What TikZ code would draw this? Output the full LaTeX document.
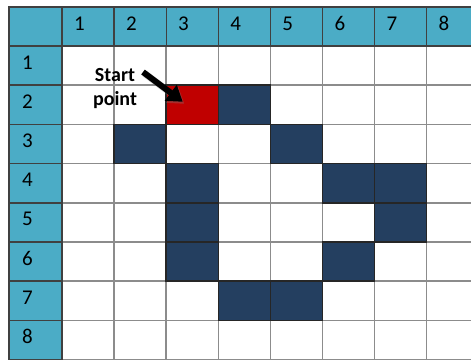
\documentclass[tikz,border=0pt]{standalone}
\usepackage{fontspec}
\setmainfont{Carlito}
\usetikzlibrary{calc,arrows.meta}
\definecolor{headteal}{HTML}{4BACC6}
\definecolor{wallblue}{HTML}{243F60}
\definecolor{startred}{HTML}{C00000}
\definecolor{gridgray}{HTML}{8C8C8C}
\tikzstyle{cell} = [rectangle, minimum width=52.1pt, minimum height=39.2pt, inner sep=0pt, draw=gridgray, line width=1.5pt, fill=white]
\tikzstyle{wall} = [cell, draw=black!85, fill=wallblue]
\tikzstyle{startcell} = [cell, draw=black!85, fill=startred]
\tikzstyle{head} = [rectangle, minimum width=52.1pt, minimum height=39pt, inner xsep=12pt, text width=28.1pt, align=left, text height=7pt, text depth=0pt, draw=black!75, line width=1.3pt, fill=headteal, font=\fontsize{21}{21}\selectfont]
\tikzstyle{rowhead} = [head, minimum width=53pt, inner xsep=13pt, text width=27pt]
\tikzstyle{arrow} = [line width=6pt, -{Triangle[length=15pt,width=19pt]}]
\tikzstyle{shade} = [arrow, draw=gray, opacity=0.35]

\begin{document}
\begin{tikzpicture}[x=1pt, y=-1pt]
    \useasboundingbox (0,0) rectangle (471,359);
    % body cells
    \foreach \r in {1,...,8}
      \foreach \c in {1,...,8}
        \node (c-\r-\c)[cell] at ({62+52.1*(\c-0.5)}, {46+39.2*(\r-0.5)}) {};
    % walls and start
    \foreach \r/\c in {2/4, 3/2, 3/5, 4/3, 4/6, 4/7, 5/3, 5/7, 6/3, 6/6, 7/4, 7/5}
      \node (w-\r-\c)[wall] at (c-\r-\c) {};
    \node (s)[startcell] at (c-2-3) {};
    % headers
    \node (corner)[rowhead] at (35.5, 26.5) {};
    \foreach \c in {1,...,8}
      \node (h-\c)[head] at ({62+52.1*(\c-0.5)}, 26.5) {\c};
    \foreach \r in {1,...,8}
      \node (r-\r)[rowhead] at (35.5, {46+39.2*(\r-0.5)}) {\r};
    % label and arrow
    \node (lbl)[align=center, font=\bfseries\fontsize{20}{24}\selectfont] at (115, 89) {Start\\point};
    \coordinate (tail) at (143, 72);
    \draw[shade] ($(tail)+(1.5,2)$) -- ($(s.center)+(-8,-1)$);
    \draw[arrow] (tail) -- ($(s.center)+(-9.5,-3)$);
  \end{tikzpicture}
\end{document}
